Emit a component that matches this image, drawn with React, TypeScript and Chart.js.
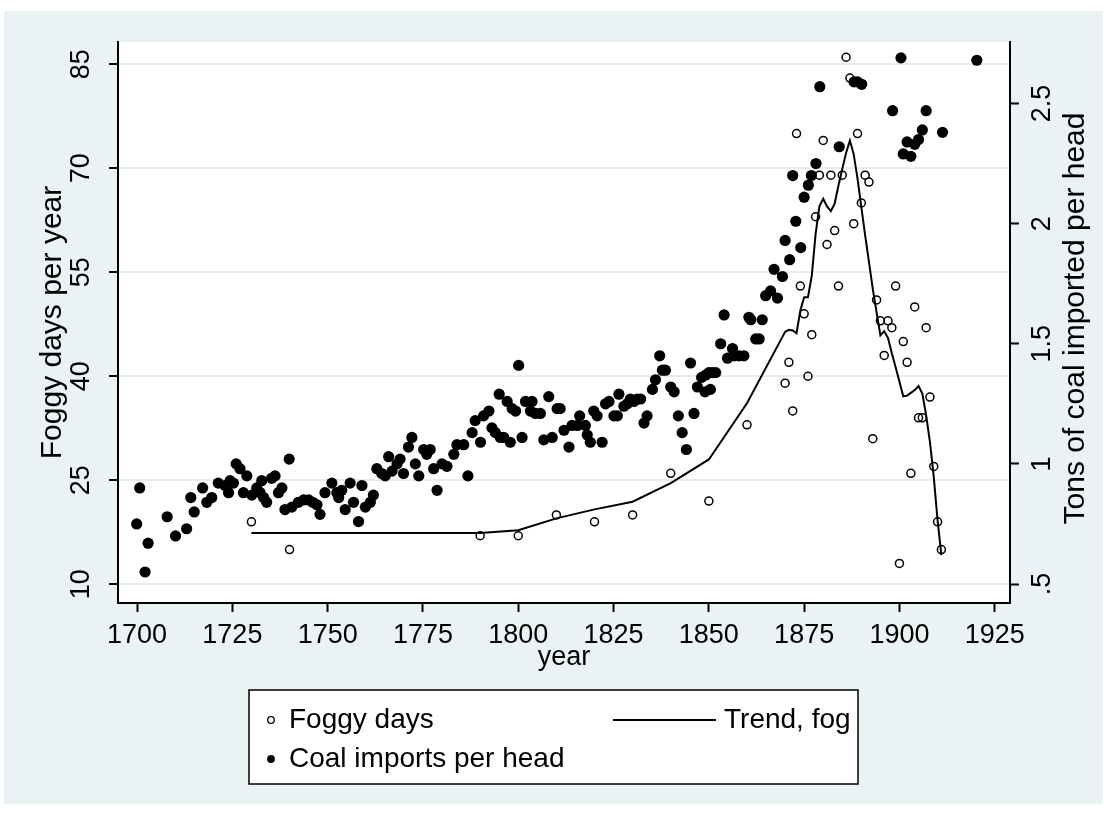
import React, { useEffect, useRef } from "react";
import { Chart, registerables } from "chart.js";

Chart.register(...registerables);

// ---------- data ----------
const fogYears = [
  1730, 1740, 1790, 1800, 1810, 1820, 1830, 1840, 1850, 1860,
  1870, 1871, 1872, 1873, 1874, 1875, 1876, 1877, 1878, 1879,
  1880, 1881, 1882, 1883, 1884, 1885, 1886, 1887, 1888, 1889,
  1890, 1891, 1892, 1893, 1894, 1895, 1896, 1897, 1898, 1899,
  1900, 1901, 1902, 1903, 1904, 1905, 1906, 1907, 1908, 1909,
  1910, 1911,
];
const fogDays = [
  19, 15, 17, 17, 20, 19, 20, 26, 22, 33,
  39, 42, 35, 75, 53, 49, 40, 46, 63, 69,
  74, 59, 69, 61, 53, 69, 86, 83, 62, 75,
  65, 69, 68, 31, 51, 48, 43, 48, 47, 53,
  13, 45, 42, 26, 50, 34, 34, 47, 37, 27,
  19, 15,
];

const trendYears = [
  1730, 1740, 1790, 1800, 1810, 1820, 1830, 1840, 1850, 1860,
  1870, 1871, 1872, 1873, 1874, 1875, 1876, 1877, 1878, 1879,
  1880, 1881, 1882, 1883, 1884, 1885, 1886, 1887, 1888, 1889,
  1890, 1891, 1892, 1893, 1894, 1895, 1896, 1897, 1898, 1899,
  1900, 1901, 1902, 1903, 1904, 1905, 1906, 1907, 1908, 1909,
  1910, 1911,
];
const trendFog = [
  17.4, 17.4, 17.4, 17.8, 19.5, 20.8, 21.9, 24.6, 28.0, 36.1,
  46.4, 46.7, 46.6, 46.2, 49.5, 51.4, 51.4, 54.5, 60.5, 64.5,
  65.6, 64.5, 63.8, 64.9, 67.5, 69.9, 72.2, 74.0, 72.0, 68.5,
  64.4, 60.3, 56.5, 52.6, 49.2, 45.9, 46.5, 45.5, 43.3, 41.3,
  39.2, 37.1, 37.2, 37.6, 38.0, 38.6, 37.5, 34.4, 30.5, 25.5,
  19.2, 14.2,
];

const coalYears = [
  1699.9, 1700.7, 1702.1, 1702.9, 1707.9, 1710.1, 1713.0, 1714.1, 1715.0, 1717.2,
  1718.3, 1719.6, 1721.3, 1723.1, 1724.0, 1724.4, 1725.3, 1726.0, 1727.0, 1727.9,
  1728.8, 1730.1, 1731.4, 1732.3, 1732.7, 1733.2, 1734.0, 1735.3, 1736.2, 1737.1,
  1738.0, 1738.8, 1739.9, 1740.6, 1742.3, 1743.7, 1745.0, 1746.1, 1747.2, 1748.0,
  1749.3, 1751.1, 1752.4, 1752.9, 1753.7, 1754.6, 1755.9, 1756.8, 1758.1, 1759.0,
  1759.9, 1761.2, 1762.0, 1762.9, 1764.2, 1765.1, 1766.0, 1766.9, 1768.2, 1769.0,
  1769.9, 1771.2, 1772.1, 1773.0, 1773.9, 1775.2, 1776.0, 1776.9, 1777.8, 1778.7,
  1780.0, 1781.3, 1783.1, 1783.9, 1785.7, 1786.8, 1787.9, 1788.7, 1790.1, 1790.9,
  1792.3, 1793.1, 1794.0, 1795.0, 1795.3, 1796.2, 1797.1, 1797.9, 1798.4, 1799.3,
  1800.1, 1801.0, 1801.9, 1803.2, 1803.6, 1804.5, 1805.8, 1806.7, 1808.0, 1808.9,
  1810.2, 1811.0, 1812.0, 1813.3, 1814.1, 1815.5, 1816.1, 1817.6, 1818.1, 1818.9,
  1819.8, 1820.7, 1822.0, 1822.9, 1823.8, 1825.1, 1826.0, 1826.4, 1827.7, 1828.6,
  1829.4, 1830.3, 1831.2, 1832.1, 1833.0, 1833.8, 1835.2, 1836.0, 1837.1, 1837.8,
  1838.6, 1840.0, 1840.9, 1842.0, 1843.0, 1844.1, 1845.2, 1846.1, 1847.0, 1848.1,
  1849.2, 1849.0, 1850.0, 1850.4, 1850.9, 1851.8, 1853.1, 1854.0, 1854.9, 1856.2,
  1856.6, 1857.9, 1859.2, 1860.5, 1861.0, 1862.3, 1863.2, 1864.0, 1864.9, 1866.2,
  1867.1, 1868.0, 1869.3, 1870.0, 1871.2, 1872.0, 1872.8, 1874.1, 1875.0, 1876.1,
  1876.9, 1878.1, 1879.1, 1884.2, 1888.1, 1889.0, 1890.1, 1898.2, 1900.4, 1901.0,
  1902.0, 1903.0, 1904.0, 1905.0, 1906.0, 1907.0, 1911.3, 1920.3,
];
const coalTons = [
  0.75, 0.90, 0.55, 0.67, 0.78, 0.70, 0.73, 0.86, 0.80, 0.90,
  0.84, 0.86, 0.92, 0.91, 0.88, 0.93, 0.92, 1.00, 0.98, 0.88,
  0.95, 0.87, 0.90, 0.88, 0.93, 0.86, 0.84, 0.94, 0.95, 0.88,
  0.90, 0.81, 1.02, 0.82, 0.84, 0.85, 0.85, 0.84, 0.83, 0.79,
  0.88, 0.92, 0.88, 0.86, 0.89, 0.81, 0.92, 0.84, 0.76, 0.91,
  0.82, 0.84, 0.87, 0.98, 0.96, 0.95, 1.03, 0.97, 1.00, 1.02,
  0.96, 1.07, 1.11, 1.00, 0.95, 1.06, 1.04, 1.06, 0.98, 0.89,
  1.00, 0.99, 1.04, 1.08, 1.08, 0.95, 1.13, 1.18, 1.09, 1.20,
  1.22, 1.15, 1.13, 1.29, 1.11, 1.11, 1.26, 1.09, 1.23, 1.22,
  1.41, 1.11, 1.26, 1.22, 1.26, 1.21, 1.21, 1.10, 1.28, 1.11,
  1.23, 1.23, 1.14, 1.07, 1.16, 1.16, 1.20, 1.16, 1.12, 1.09,
  1.22, 1.20, 1.09, 1.25, 1.26, 1.20, 1.20, 1.29, 1.24, 1.25,
  1.27, 1.26, 1.27, 1.27, 1.17, 1.20, 1.31, 1.35, 1.45, 1.39,
  1.39, 1.32, 1.30, 1.20, 1.13, 1.06, 1.42, 1.21, 1.32, 1.36,
  1.37, 1.30, 1.38, 1.31, 1.38, 1.38, 1.50, 1.62, 1.44, 1.48,
  1.45, 1.45, 1.45, 1.61, 1.60, 1.52, 1.52, 1.60, 1.70, 1.72,
  1.81, 1.69, 1.78, 1.93, 1.85, 2.20, 2.01, 1.90, 2.11, 2.16,
  2.20, 2.25, 2.57, 2.32, 2.59, 2.59, 2.58, 2.47, 2.69, 2.29,
  2.34, 2.28, 2.33, 2.35, 2.39, 2.47, 2.38, 2.68,
];

const xTicks = [1700, 1725, 1750, 1775, 1800, 1825, 1850, 1875, 1900, 1925];
const leftTicks = [10, 25, 40, 55, 70, 85];
const rightTicks = [0.5, 1, 1.5, 2, 2.5];
const rightTickLabels = [".5", "1", "1.5", "2", "2.5"];

const seriesLabels = ["Foggy days", "Coal imports per head", "Trend, fog"];
const xTitle = "year";
const leftTitle = "Foggy days per year";
const rightTitle = "Tons of coal imported per head";

// ---------- styling ----------
const FONT = '"Liberation Sans", Arial, Helvetica, sans-serif';
const FS_TICK = 27;
const FS_TITLE = 30;
const FS_LEG = 28;
const BG = "#eaf2f3";
const GRID = "#e4edf0";

const W = 1107;
const H = 815;

const stataPlugin = {
  id: "stataLook",
  beforeDraw(chart: any) {
    const { ctx, chartArea } = chart;
    ctx.save();
    ctx.fillStyle = "#ffffff";
    ctx.fillRect(0, 0, W, H);
    ctx.fillStyle = BG;
    ctx.fillRect(4, 11, W - 8, H - 22);
    ctx.fillStyle = "#ffffff";
    ctx.fillRect(
      chartArea.left,
      chartArea.top,
      chartArea.right - chartArea.left,
      chartArea.bottom - chartArea.top
    );
    ctx.restore();
  },
  afterDraw(chart: any) {
    const { ctx, chartArea } = chart;
    // right axis title (reads bottom to top)
    ctx.save();
    ctx.translate(1076, (chartArea.top + chartArea.bottom) / 2 - 4);
    ctx.rotate(-Math.PI / 2);
    ctx.font = `${FS_TITLE}px ${FONT}`;
    ctx.fillStyle = "#000";
    ctx.textAlign = "center";
    ctx.textBaseline = "middle";
    ctx.fillText(rightTitle, 0, 0);
    ctx.restore();

    // legend box
    const bx = 249, by = 690, bw = 609, bh = 94;
    ctx.save();
    ctx.fillStyle = "#ffffff";
    ctx.fillRect(bx, by, bw, bh);
    ctx.strokeStyle = "#000";
    ctx.lineWidth = 1.5;
    ctx.strokeRect(bx, by, bw, bh);
    ctx.font = `${FS_LEG}px ${FONT}`;
    ctx.fillStyle = "#000";
    ctx.textAlign = "left";
    ctx.textBaseline = "middle";
    const r1 = 720, r2 = 759;
    // Foggy days
    ctx.beginPath();
    ctx.arc(271, r1, 3.3, 0, Math.PI * 2);
    ctx.lineWidth = 1.3;
    ctx.stroke();
    ctx.fillText(seriesLabels[0], 289, r1);
    // Coal
    ctx.beginPath();
    ctx.arc(271, r2, 3.9, 0, Math.PI * 2);
    ctx.fill();
    ctx.fillText(seriesLabels[1], 289, r2);
    // Trend
    ctx.beginPath();
    ctx.moveTo(613, r1);
    ctx.lineTo(716, r1);
    ctx.lineWidth = 2;
    ctx.stroke();
    ctx.fillText(seriesLabels[2], 724, r1);
    ctx.restore();
  },
};

export default function App() {
  const ref = useRef<HTMLCanvasElement | null>(null);

  useEffect(() => {
    if (!ref.current) return;
    const fogPts = fogYears.map((x, i) => ({ x, y: fogDays[i] }));
    const coalPts = coalYears.map((x, i) => ({ x, y: coalTons[i] }));
    const trendPts = trendYears.map((x, i) => ({ x, y: trendFog[i] }));

    const tickFont = { family: FONT, size: FS_TICK };
    const titleFont = { family: FONT, size: FS_TITLE };

    const chart = new Chart(ref.current, {
      type: "scatter",
      data: {
        datasets: [
          {
            label: seriesLabels[0],
            data: fogPts,
            yAxisID: "y",
            pointStyle: "circle",
            pointRadius: 4,
            pointBackgroundColor: "rgba(255,255,255,0)",
            pointBorderColor: "#000",
            pointBorderWidth: 1.5,
            order: 3,
          },
          {
            label: seriesLabels[1],
            data: coalPts,
            yAxisID: "y2",
            pointStyle: "circle",
            pointRadius: 5.6,
            pointBackgroundColor: "#000",
            pointBorderColor: "#000",
            pointBorderWidth: 0,
            order: 2,
          },
          {
            type: "line",
            label: seriesLabels[2],
            data: trendPts,
            yAxisID: "y",
            showLine: true,
            borderColor: "#000",
            borderWidth: 2,
            pointRadius: 0,
            tension: 0,
            fill: false,
            order: 1,
          } as any,
        ],
      },
      options: {
        animation: false,
        responsive: false,
        devicePixelRatio: 1,
        layout: { padding: { top: 42, left: 0, right: 0, bottom: 0 } },
        plugins: {
          legend: { display: false },
          tooltip: { enabled: false },
        },
        scales: {
          x: {
            type: "linear",
            position: "bottom",
            min: 1695,
            max: 1929,
            afterBuildTicks: (s: any) => {
              s.ticks = xTicks.map((v) => ({ value: v }));
            },
            afterFit: (s: any) => {
              s.height = 212;
            },
            grid: {
              display: true,
              drawOnChartArea: false,
              drawTicks: true,
              tickLength: 9,
              tickColor: "#000",
              tickWidth: 2,
            },
            border: { display: true, color: "#000", width: 2 },
            ticks: {
              color: "#000",
              font: tickFont,
              padding: 7,
              maxRotation: 0,
              minRotation: 0,
              autoSkip: false,
              callback: (v: any) => String(v),
            },
            title: {
              display: true,
              text: xTitle,
              color: "#000",
              font: tickFont,
              padding: { top: 0, bottom: 141 },
            },
          },
          y: {
            type: "linear",
            position: "left",
            min: 7.3,
            max: 88.2,
            afterBuildTicks: (s: any) => {
              s.ticks = leftTicks.map((v) => ({ value: v }));
            },
            afterFit: (s: any) => {
              s.width = 118;
            },
            grid: {
              display: true,
              drawOnChartArea: true,
              color: GRID,
              lineWidth: 2,
              drawTicks: true,
              tickLength: 9,
              tickColor: "#000",
              tickWidth: 2,
            },
            border: { display: true, color: "#000", width: 2 },
            ticks: {
              color: "#000",
              font: tickFont,
              padding: 12,
              minRotation: 90,
              maxRotation: 90,
              crossAlign: "center",
              autoSkip: false,
              callback: (v: any) => String(v),
            },
            title: {
              display: true,
              text: leftTitle,
              color: "#000",
              font: titleFont,
              padding: { top: 35, bottom: 0 },
            },
          },
          y2: {
            type: "linear",
            position: "right",
            min: 0.421,
            max: 2.756,
            afterBuildTicks: (s: any) => {
              s.ticks = rightTicks.map((v) => ({ value: v }));
            },
            afterFit: (s: any) => {
              s.width = 97;
            },
            grid: {
              display: true,
              drawOnChartArea: false,
              drawTicks: true,
              tickLength: 9,
              tickColor: "#000",
              tickWidth: 2,
            },
            border: { display: true, color: "#000", width: 2 },
            ticks: {
              color: "#000",
              font: tickFont,
              padding: 5,
              minRotation: 90,
              maxRotation: 90,
              crossAlign: "center",
              autoSkip: false,
              callback: (v: any) => {
                const i = rightTicks.indexOf(Number(v));
                return i >= 0 ? rightTickLabels[i] : "";
              },
            },
            title: { display: false },
          },
        },
      },
      plugins: [stataPlugin],
    });
    return () => chart.destroy();
  }, []);

  return (
    <div style={{ position: "absolute", left: 0, top: 0, width: W, height: H, background: "#fff" }}>
      <canvas ref={ref} width={W} height={H} style={{ display: "block", width: W, height: H }} />
    </div>
  );
}
